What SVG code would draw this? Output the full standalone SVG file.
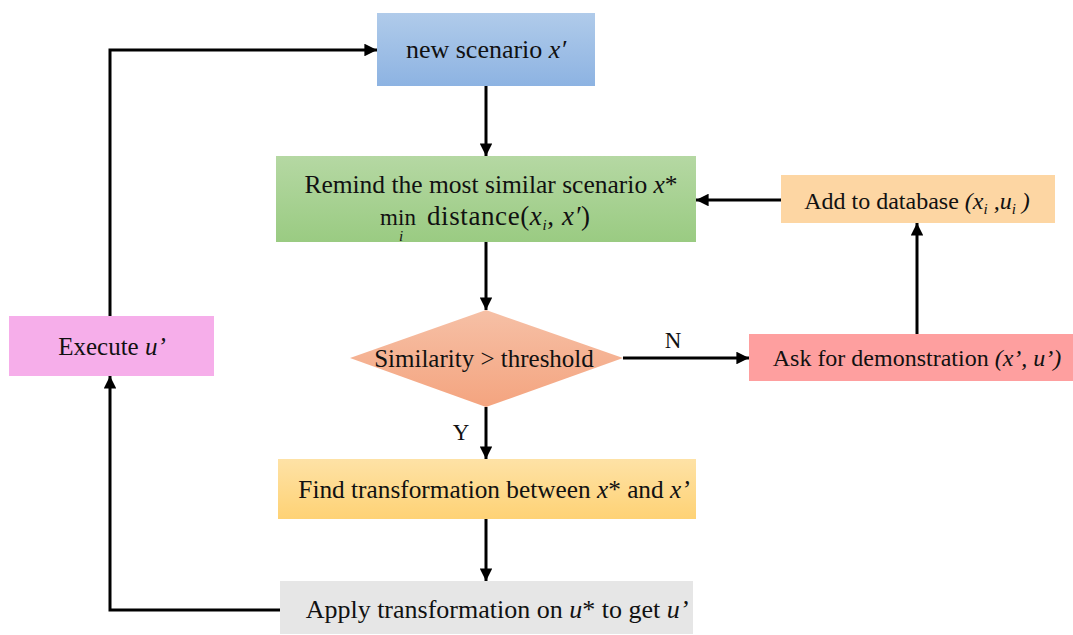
<svg xmlns="http://www.w3.org/2000/svg" width="1073" height="635" viewBox="0 0 1073 635">
  <defs>
    <linearGradient id="gBlue" x1="0" y1="0" x2="0" y2="1">
      <stop offset="0" stop-color="#b0cbea"/>
      <stop offset="1" stop-color="#8db3e2"/>
    </linearGradient>
    <linearGradient id="gGreen" x1="0" y1="0" x2="0" y2="1">
      <stop offset="0" stop-color="#b5d8a3"/>
      <stop offset="1" stop-color="#9acb82"/>
    </linearGradient>
    <linearGradient id="gSalmon" x1="0" y1="0" x2="0" y2="1">
      <stop offset="0" stop-color="#f6c0a6"/>
      <stop offset="1" stop-color="#f4a47f"/>
    </linearGradient>
    <linearGradient id="gYellow" x1="0" y1="0" x2="0" y2="1">
      <stop offset="0" stop-color="#fee2a6"/>
      <stop offset="1" stop-color="#fed275"/>
    </linearGradient>
    <marker id="arrow" viewBox="0 0 10 10" refX="10" refY="5" markerWidth="4.2" markerHeight="4.2" markerUnits="strokeWidth" orient="auto">
      <path d="M0,0 L10,5 L0,10 Z" fill="#000"/>
    </marker>
  </defs>
  <style>
    .lbl { font-family: "Liberation Serif", "Times New Roman", serif; font-size: 25px; fill: #111; }
    .it { font-style: italic; }
    .sub { font-size: 15px; }
    .conn { fill: none; stroke: #000; stroke-width: 3; marker-end: url(#arrow); }
  </style>

  <rect width="1073" height="635" fill="#fff"/>

  <!-- connectors -->
  <g id="connectors">
    <path class="conn" d="M110,316 V50 H377"/>
    <path class="conn" d="M486,86 V156"/>
    <path class="conn" d="M486,242 V310"/>
    <path class="conn" d="M623,358 H749"/>
    <path class="conn" d="M917,334 V223"/>
    <path class="conn" d="M781,200 H696"/>
    <path class="conn" d="M486,407 V459"/>
    <path class="conn" d="M486,519 V581"/>
    <path class="conn" d="M280,610 H110 V376"/>
    <text class="lbl" x="673" y="348" text-anchor="middle" style="font-size:23px">N</text>
    <text class="lbl" x="461" y="440" text-anchor="middle" style="font-size:23px">Y</text>
  </g>

  <g id="new-scenario">
    <rect x="377" y="13" width="218" height="73" fill="url(#gBlue)"/>
    <text class="lbl" x="486" y="58" text-anchor="middle" style="font-size:26px">new scenario <tspan class="it">x′</tspan></text>
  </g>

  <g id="remind">
    <rect x="276" y="156" width="420" height="86" fill="url(#gGreen)"/>
    <text class="lbl" x="491" y="193" text-anchor="middle" style="font-size:25.5px">Remind the most similar scenario <tspan class="it">x</tspan>*</text>
    <text class="lbl" x="398" y="225" text-anchor="middle" style="font-size:23px">min</text>
    <text class="lbl sub it" x="401" y="241" text-anchor="middle">i</text>
    <text class="lbl" x="427" y="225" style="font-size:27px;letter-spacing:0.6px">distance(<tspan class="it">x</tspan><tspan class="sub it" dy="5">i</tspan><tspan dy="-5">, </tspan><tspan class="it">x′</tspan>)</text>
  </g>

  <g id="add-database">
    <rect x="781" y="175" width="274" height="48" fill="#fdd6a3"/>
    <text class="lbl" x="917" y="209" text-anchor="middle" style="font-size:24px">Add to database <tspan class="it">(x<tspan class="sub" dy="5">i</tspan><tspan dy="-5"> ,u</tspan><tspan class="sub" dy="5">i</tspan><tspan dy="-5"> )</tspan></tspan></text>
  </g>

  <g id="similarity-check">
    <polygon points="486,310 623,358 486,407 350,358" fill="url(#gSalmon)"/>
    <text class="lbl" x="484" y="367" text-anchor="middle">Similarity &gt; threshold</text>
  </g>

  <g id="ask-demonstration">
    <rect x="749" y="334" width="324" height="47" fill="#fe9f9f"/>
    <text class="lbl" x="917" y="366" text-anchor="middle" style="font-size:24px">Ask for demonstration <tspan class="it">(x’, u’)</tspan></text>
  </g>

  <g id="find-transformation">
    <rect x="278" y="459" width="418" height="60" fill="url(#gYellow)"/>
    <text class="lbl" x="494" y="498" text-anchor="middle" style="font-size:25.3px">Find transformation between <tspan class="it">x</tspan>* and <tspan class="it">x’</tspan></text>
  </g>

  <g id="apply-transformation">
    <rect x="280" y="581" width="413" height="53" fill="#e6e6e6"/>
    <text class="lbl" x="497" y="618" text-anchor="middle" style="font-size:26px">Apply transformation on <tspan class="it">u</tspan>* to get <tspan class="it">u’</tspan></text>
  </g>

  <g id="execute">
    <rect x="9" y="316" width="205" height="60" fill="#f6aeea"/>
    <text class="lbl" x="112" y="355" text-anchor="middle">Execute <tspan class="it">u’</tspan></text>
  </g>
</svg>
